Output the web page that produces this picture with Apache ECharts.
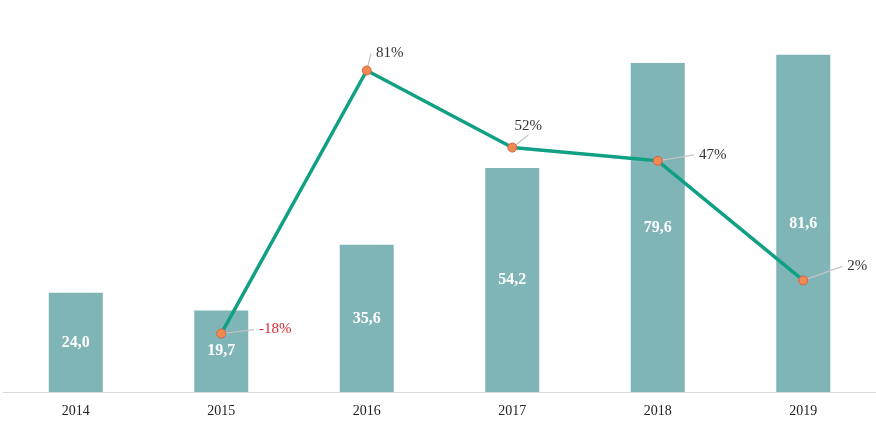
<!DOCTYPE html>
<html><head><meta charset="utf-8">
<script src="https://cdn.jsdelivr.net/npm/echarts@6/dist/echarts.min.js"></script>
<style>html,body{margin:0;padding:0;background:#fff}#c{width:876px;height:423px}</style>
</head><body><div id="c"></div>
<script>
const categories = ['2014','2015','2016','2017','2018','2019'];
const barValues = [24.0, 19.7, 35.6, 54.2, 79.6, 81.6];
const growthValues = [null, -18, 81, 52, 47, 2];

const labelShift = [null, [54,-4], [23,-17], [16,-21], [55,-6], [54,-14]];
const serif = '"Liberation Serif", "Times New Roman", serif';

const chart = echarts.init(document.getElementById('c'));
chart.setOption({
  animation: false,
  grid: {left: 3, right: 0, top: 20, bottom: 31, containLabel: false},
  xAxis: {
    type: 'category', data: categories,
    axisLine: {lineStyle: {color: '#d9d9d9', width: 1}},
    axisTick: {show: false},
    axisLabel: {color: '#222', fontFamily: serif, fontSize: 14, margin: 12}
  },
  yAxis: [
    {type: 'value', min: 0, max: 90, show: false, splitLine: {show: false}},
    {type: 'value', min: -40, max: 100, show: false, splitLine: {show: false}}
  ],
  series: [
    {
      type: 'bar', data: barValues, barWidth: 54, yAxisIndex: 0, z: 2,
      itemStyle: {color: '#80b5b8'},
      label: {show: true, position: 'inside', color: '#fff', fontFamily: serif,
        fontWeight: 'bold', fontSize: 16,
        formatter: p => p.value.toFixed(1).replace('.', ',')}
    },
    {
      type: 'line', data: growthValues, yAxisIndex: 1, z: 10,
      lineStyle: {color: '#10a084', width: 3.5},
      symbol: 'circle', symbolSize: 9,
      itemStyle: {color: '#f08a50', borderColor: '#d9604a', borderWidth: 1},
      label: {show: true, position: 'inside', fontFamily: serif, fontSize: 15,
        color: '#333', padding: [1, 5], backgroundColor: 'rgba(255,255,255,0)',
        formatter: p => p.value + '%'},
      labelLine: {show: true, lineStyle: {color: '#c4c4c4', width: 1.2}},
      labelLayout: p => {
        const s = labelShift[p.dataIndex];
        return s ? {dx: s[0], dy: s[1]} : {};
      },
      data: growthValues.map(v => v === null ? '-' : (v < 0 ? {value: v, label: {color: '#e0262f'}} : v))
    }
  ]
});
</script></body></html>
